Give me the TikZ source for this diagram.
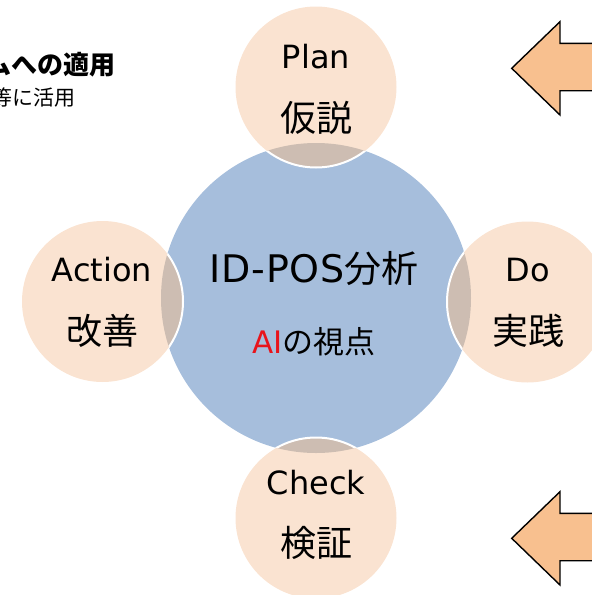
\documentclass[tikz,border=0pt]{standalone}
\usepackage{fontspec}
\setmainfont{DejaVu Sans}
\newfontfamily\jp{Noto Sans CJK JP}
\newfontfamily\hublat[LetterSpace=2]{DejaVu Sans}
\definecolor{cblue}{HTML}{A6BEDC}
\definecolor{cpeach}{HTML}{FAE3D1}
\definecolor{coverlap}{HTML}{CDBDB2}
\definecolor{carrow}{HTML}{F8C08F}
\definecolor{cred}{HTML}{E8141B}
\tikzset{
  sat/.style={circle, fill=cpeach, minimum size=161pt, inner sep=0pt},
  satline/.style={draw=white, line width=2pt},
  lat/.style={inner sep=0pt, font=\fontsize{32}{36}\selectfont},
  kan/.style={inner sep=0pt, font=\jp\fontsize{36}{40}\selectfont},
  blockarrow/.style={fill=carrow, draw=black, line width=1.4pt, line join=miter},
}
\begin{document}
\begin{tikzpicture}[x=1pt,y=-1pt]
\useasboundingbox (0,0) rectangle (592,595);
\clip (0,0) rectangle (592,595);
% central circle
\node[circle, fill=cblue, minimum size=310pt, inner sep=0pt] (hub) at (316,298) {};
% satellites
\node[sat] (plan) at (316,87) {};
\node[sat] (act) at (102.5,301.5) {};
\node[sat] (do) at (527.5,302) {};
\node[sat] (chk) at (316,518) {};
% overlaps
\begin{scope}
  \clip (316,298) circle (155);
  \foreach \p in {(316,87),(102.5,301.5),(527.5,302),(316,518)}
    \fill[coverlap] \p circle (80.5);
  \foreach \p in {(316,87),(102.5,301.5),(527.5,302),(316,518)}
    \draw[satline] \p circle (80.5);
\end{scope}
% labels
\node[lat] (planL) at (316,57) {Plan};
\node[kan] (planJ) at (316,118) {仮説};
\node[lat] (actL) at (102,270) {Action};
\node[kan] (actJ) at (102,331) {改善};
\node[lat] (doL) at (528,270) {Do};
\node[kan] (doJ) at (528,331) {実践};
\node[lat] (chkL) at (316,483) {Check};
\node[kan] (chkJ) at (316,543) {検証};
\node[inner sep=0pt, font=\hublat\fontsize{38}{42}\selectfont] (hubL) at (314,269) {ID-POS{\jp\fontsize{37}{40}\selectfont 分析}};
\node[inner sep=0pt, font=\fontsize{31}{34}\selectfont] (hubS) at (314,342) {\textcolor{cred}{AI}{\jp\fontsize{31}{34}\selectfont の視点}};
% top-left text
\node[inner sep=0pt, anchor=east, font=\jp\bfseries\fontsize{26}{29}\selectfont] (t1) at (116,65) {ムへの適用};
\node[inner sep=0pt, anchor=east, font=\jp\fontsize{21}{24}\selectfont] (t2) at (76,98) {等に活用};
% block arrows
\draw[blockarrow] (511.7,68.3) -- (560,21.7) -- (560,43.3) -- (600,43.3) -- (600,90.7) -- (560,90.7) -- (560,115) -- cycle;
\draw[blockarrow] (511.7,538.3) -- (560,491.7) -- (560,513.3) -- (600,513.3) -- (600,560.7) -- (560,560.7) -- (560,585) -- cycle;
\end{tikzpicture}
\end{document}
